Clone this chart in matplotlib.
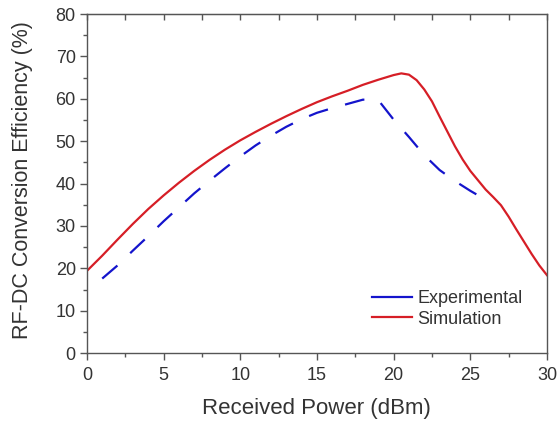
import matplotlib
matplotlib.use("Agg")
import matplotlib.pyplot as plt
from matplotlib.lines import Line2D
from matplotlib.ticker import MultipleLocator

plt.rcParams['font.family'] = ['Liberation Sans', 'DejaVu Sans']

sim_x = [0, 1, 2, 3, 4, 5, 6, 7, 8, 9, 10, 11, 12, 13, 14, 15, 16, 17, 18, 19, 20, 20.5,
         21, 21.5, 22, 22.5, 23, 23.5, 24, 24.5, 25, 25.5, 26, 26.5, 27, 27.5, 28, 28.5,
         29, 29.5, 30]
sim_y = [19.4, 23.0, 26.8, 30.5, 34.0, 37.2, 40.2, 43.0, 45.6, 48.0, 50.2, 52.2, 54.1, 55.9,
         57.6, 59.2, 60.6, 61.9, 63.3, 64.5, 65.6, 66.0, 65.7, 64.4, 62.2, 59.4, 55.8, 52.3,
         48.8, 45.7, 43.0, 40.8, 38.6, 36.8, 34.9, 32.2, 29.2, 26.3, 23.4, 20.7, 18.4]

exp_x = [1, 2, 3, 4, 5, 6, 7, 8, 9, 10, 11, 12, 13, 14, 15, 16, 17, 18, 19, 20, 21, 22, 23, 24, 25, 26]
exp_y = [17.6, 20.7, 24.2, 27.6, 31.1, 34.4, 37.7, 40.7, 43.6, 46.4, 49.0, 51.3, 53.4, 55.2,
         56.7, 57.8, 58.8, 59.8, 59.7, 55.1, 51.0, 46.7, 43.2, 40.6, 38.3, 36.2]

blue = '#1414cc'
red = '#d61e26'
txt = '#333333'
spine = '#555555'

fig = plt.figure(figsize=(5.57, 4.25), dpi=100)
ax = fig.add_axes([0.156, 0.169, 0.826, 0.798])

ax.plot(exp_x, exp_y, color=blue, lw=1.6, dashes=(9, 8))
ax.plot(sim_x, sim_y, color=red, lw=1.6)

ax.set_xlim(0, 30)
ax.set_ylim(0, 80)
ax.xaxis.set_major_locator(MultipleLocator(5))
ax.xaxis.set_minor_locator(MultipleLocator(2.5))
ax.yaxis.set_major_locator(MultipleLocator(10))
ax.yaxis.set_minor_locator(MultipleLocator(5))

for s in ax.spines.values():
    s.set_color(spine)
    s.set_linewidth(1.0)

ax.tick_params(axis='both', which='major', direction='out', length=5, width=1,
               color=spine, labelsize=13, labelcolor=txt)
ax.tick_params(axis='x', which='major', pad=5)
ax.tick_params(axis='y', which='major', pad=3)
ax.tick_params(axis='both', which='minor', direction='out', length=3, width=1, color=spine)

# top ticks pointing inward
sec = ax.secondary_xaxis('top')
sec.xaxis.set_major_locator(MultipleLocator(5))
sec.xaxis.set_minor_locator(MultipleLocator(2.5))
sec.tick_params(axis='x', which='both', direction='in', length=4, width=1, color=spine,
                labeltop=False)
sec.spines['top'].set_color(spine)

ax.set_xlabel('Received Power (dBm)', fontsize=16, color=txt, labelpad=10)
ax.set_ylabel('RF-DC Conversion Efficiency (%)', fontsize=15.5, color=txt)
ax.yaxis.set_label_coords(-0.118, 0.51)

handles = [Line2D([], [], color=blue, lw=1.6), Line2D([], [], color=red, lw=1.6)]
leg = ax.legend(handles, ['Experimental', 'Simulation'], loc='center left',
                bbox_to_anchor=(0.62, 0.131), frameon=False, fontsize=13,
                handlelength=2.2, handletextpad=0.3, labelspacing=0.2, borderpad=0,
                borderaxespad=0)
for t in leg.get_texts():
    t.set_color(txt)

fig.savefig('out.png', dpi=100)
